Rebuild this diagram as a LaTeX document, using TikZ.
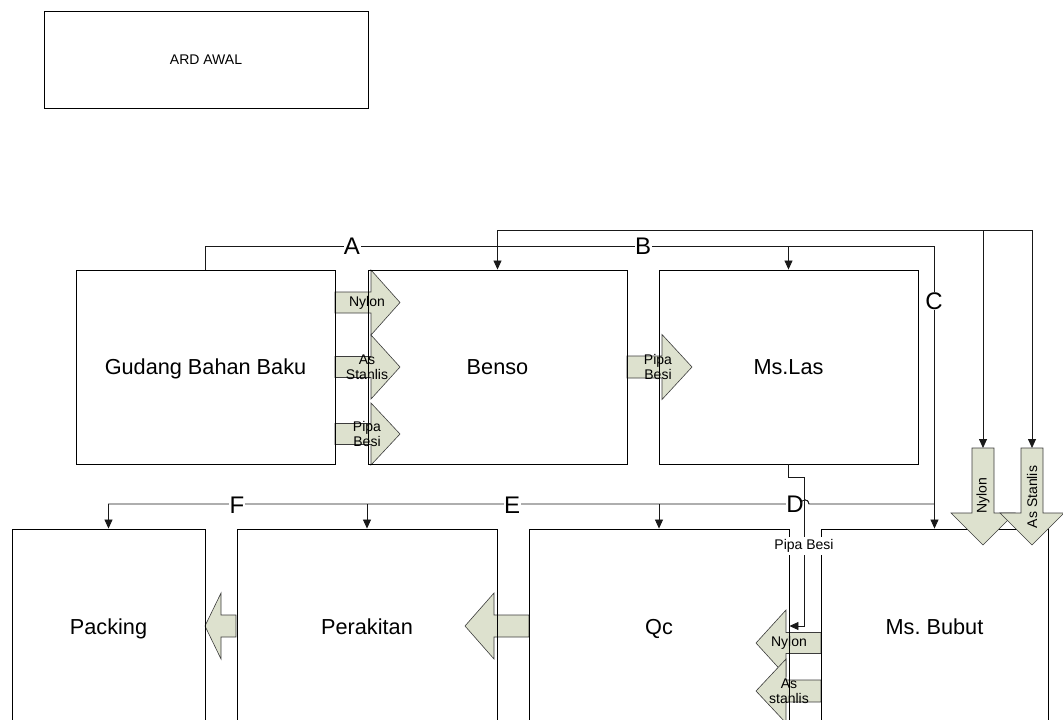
\documentclass[tikz,border=0pt]{standalone}
\usepackage{fontspec}
\setmainfont{Liberation Sans}
\usetikzlibrary{arrows.meta}
\frenchspacing
\definecolor{arrfill}{RGB}{221,225,206}
\definecolor{arrline}{RGB}{60,60,60}
\definecolor{connc}{RGB}{25,25,25}
\newcommand\harrow[6]{% x0 shaft start, x1 head base, x2 tip, yc, half shaft, half head
  \draw[blk] (#1,#4-#5) -- (#2,#4-#5) -- (#2,#4-#6) -- (#3,#4) -- (#2,#4+#6) -- (#2,#4+#5) -- (#1,#4+#5) -- cycle;}
\newcommand\varrow[6]{% xc, y0 shaft start, y1 head base, y2 tip, half shaft, half head
  \draw[blk] (#1-#5,#2) -- (#1-#5,#3) -- (#1-#6,#3) -- (#1,#4) -- (#1+#6,#3) -- (#1+#5,#3) -- (#1+#5,#2) -- cycle;}
\begin{document}
\begin{tikzpicture}[x=1pt,y=-1pt,
  box/.style={draw=black, line width=0.9pt, inner sep=0pt, text height=15.8pt, text depth=0pt, font=\fontsize{21.7}{26}\selectfont},
  conn/.style={draw=connc, line width=0.8pt},
  tip/.style={-{Triangle[width=8pt,length=9pt]}},
  blk/.style={fill=arrfill, draw=arrline, line width=0.6pt},
  small/.style={inner sep=0pt, font=\fontsize{14}{15}\selectfont, align=center},
  lbl/.style={fill=white, inner xsep=0.5pt, inner ysep=1pt, font=\fontsize{24}{28}\selectfont}]
\useasboundingbox (0,0) rectangle (1063,720);
\clip (0,0) rectangle (1063,720);

% block arrows drawn beneath the boxes
\harrow{335}{371}{400}{302.5}{10.5}{32.5}
\harrow{335}{371}{400}{367}{10.5}{32}
\harrow{335}{371}{400}{434}{10.5}{31}
\harrow{627}{662}{692}{367}{11}{32.5}
\harrow{529}{494}{465}{626}{11}{33}
\harrow{236}{221}{205}{626}{11}{33}
\harrow{821}{786}{756}{643}{10.5}{33}
\harrow{821}{786}{756}{691}{11}{32}

% boxes
\node[box, minimum width=324pt, minimum height=97pt, text height=10pt, font=\fontsize{14}{16}\selectfont] (ard) at (206,59.5) {ARD AWAL};
\node[box, minimum width=259pt, minimum height=194pt] (gudang) at (205.5,367) {Gudang Bahan Baku};
\node[box, minimum width=259pt, minimum height=194pt] (benso) at (497.5,367) {Benso};
\node[box, minimum width=259pt, minimum height=194pt] (mslas) at (788.5,367) {Ms.Las};
\node[box, minimum width=193pt, minimum height=196pt] (packing) at (108.5,627) {Packing};
\node[box, minimum width=260pt, minimum height=196pt] (perakitan) at (367,627) {Perakitan};
\node[box, minimum width=260pt, minimum height=196pt] (qc) at (659,627) {Qc};
\node[box, minimum width=227pt, minimum height=196pt] (msbubut) at (934.5,627) {Ms. Bubut};

% down block arrows over Ms. Bubut
\varrow{983}{448}{513}{545}{11}{32}
\varrow{1032}{448}{513}{545}{11}{32}
\coordinate (nyTop) at (983,448);
\coordinate (asTop) at (1032,448);

% arrow texts
\node[small] (tNy1) at (367,303) {Nylon};
\node[small] (tAs1) at (367,367) {As\\Stanlis};
\node[small] (tPb1) at (367,434) {Pipa\\Besi};
\node[small] (tPb2) at (658,367) {Pipa\\Besi};
\node[small] (tNy2) at (789,643) {Nylon};
\node[small] (tAs2) at (789,691) {As\\stanlis};
\node[small, rotate=90] (tNy3) at (983,496) {Nylon};
\node[small, rotate=90] (tAs3) at (1032,497) {As Stanlis};

% connector levels
\coordinate (yT) at (0,230);
\coordinate (yAB) at (0,246);
\coordinate (yDEF) at (0,504);
\coordinate (yPB) at (0,477);
\coordinate (pb) at (804,626);

% top line
\draw[conn, tip] (asTop |- yT) -- (benso.north |- yT) -- (benso.north);
\draw[conn, tip] (asTop |- yT) -- (asTop);
\draw[conn, tip] (nyTop |- yT) -- (nyTop);

% A - B - C
\draw[conn, tip] (gudang.north) -- (gudang.north |- yAB) -- (msbubut.north |- yAB) -- (msbubut.north);
\draw[conn, tip] (mslas.north |- yAB) -- (mslas.north);

% D - E - F
\draw[conn, tip] (msbubut.north |- yDEF) -- (809,504) .. controls (809,498.5) and (801,498.5) .. (801,504) -- (packing.north |- yDEF) -- (packing.north);
\draw[conn, tip] (perakitan.north |- yDEF) -- (perakitan.north);
\draw[conn, tip] (qc.north |- yDEF) -- (qc.north);

% Pipa Besi from Ms.Las to Qc
\draw[conn, tip] (mslas.south) -- (mslas.south |- yPB) -- (pb |- yPB) -- (pb) -- (qc.east |- pb);

% letter labels
\node[lbl] (lA) at (352,246) {A};
\node[lbl] (lB) at (643,246) {B};
\node[lbl] (lC) at (934,301) {C};
\node[lbl] (lD) at (795,504) {D};
\node[lbl] (lE) at (512,505) {E};
\node[lbl] (lF) at (237,505) {F};
\draw[conn] (809,504) .. controls (809,498.5) and (801,498.5) .. (801,504);
\node[small, fill=white, inner xsep=1pt, inner ysep=2pt] (pbl) at (804,546) {Pipa Besi};
\end{tikzpicture}
\end{document}
